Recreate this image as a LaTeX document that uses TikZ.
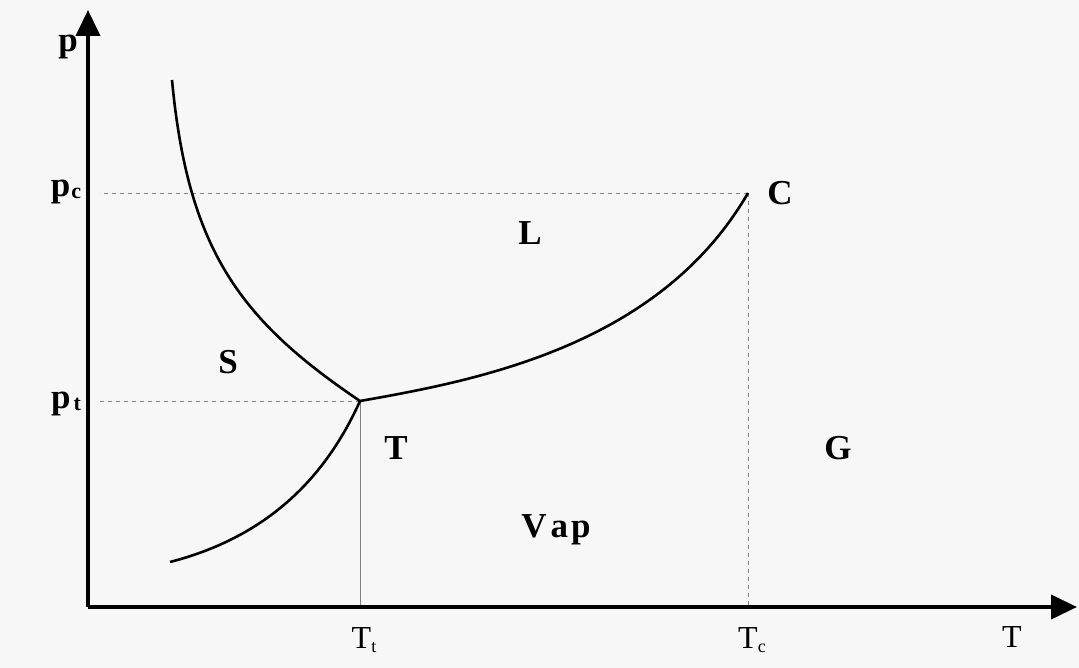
\documentclass[tikz,border=0pt]{standalone}
\usepackage{fontspec}
\setmainfont{Liberation Serif}
\usetikzlibrary{arrows.meta}

\begin{document}
\begin{tikzpicture}[x=1pt,y=-1pt,
    axis/.style={line width=4pt,-{Triangle[length=26pt,width=24pt]}},
    phaseline/.style={line width=2.6pt},
    guide/.style={gray,line width=0.8pt,dash pattern=on 4pt off 4pt},
    region/.style={font=\fontsize{35}{40}\selectfont\bfseries},
    ticklabel/.style={font=\fontsize{32}{38}\selectfont}]
    % Frame
    \fill[black!3] (0,0) rectangle (1079,668);
    \useasboundingbox (0,0) rectangle (1079,668);
    % Axes
    \coordinate (origin) at (88,607);
    \coordinate (ptip) at (88,10);
    \coordinate (Ttip) at (1077,607);
    \draw[axis] (origin) -- (ptip);
    \draw[axis] (origin) -- (Ttip);
    % Special points
    \coordinate (triple) at (360,401);
    \coordinate (crit) at (748,193);
    \coordinate (meltTop) at (172,80);
    \coordinate (sublLow) at (170,562);
    % Guide lines
    \draw[guide] (crit) -- (100,193);
    \draw[guide] (crit) -- (748,605);
    \draw[guide] (triple) -- (100,401);
    \draw[gray,line width=0.8pt] (triple) -- (360,605);
    % Phase boundaries
    \draw[phaseline] (meltTop) .. controls (188,250) and (240,320) .. (triple);
    \draw[phaseline] (sublLow) .. controls (255,540) and (320,490) .. (triple);
    \draw[phaseline] (triple) .. controls (480,380) and (660,345) .. (crit);
    % Labels
    \node[region] (plab) at (68,47) {p};
    \node[region] (pclab) at (66,192) {p\kern1pt\raisebox{-2pt}{\fontsize{22}{26}\selectfont c}};
    \node[region] (ptlab) at (66,404) {p\kern3pt\raisebox{-2pt}{\fontsize{22}{26}\selectfont t}};
    \node[region] (Clab) at (780,193) {C};
    \node[region] (Slab) at (228,362) {S};
    \node[region] (Llab) at (530,233) {L};
    \node[region] (Tlab) at (396,448) {T};
    \node[region] (Glab) at (838,448) {G};
    \node[region] (Vaplab) at (556,530) {V\kern4pt a\kern3pt p};
    \node[ticklabel] (Ttlab) at (364,640) {T\raisebox{-4pt}{\fontsize{18}{22}\selectfont t}};
    \node[ticklabel] (Tclab) at (752,640) {T\raisebox{-4pt}{\fontsize{18}{22}\selectfont c}};
    \node[ticklabel] (Tlabax) at (1012,637) {T};
\end{tikzpicture}
\end{document}
